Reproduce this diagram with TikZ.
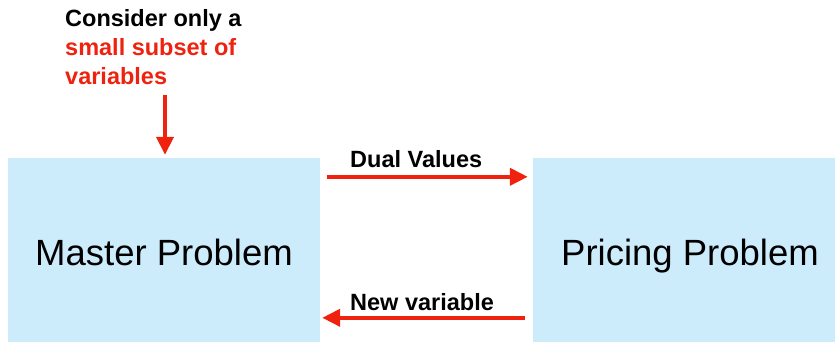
\documentclass[tikz,border=0pt]{standalone}
\usepackage{fontspec}
\setmainfont{Liberation Sans}
\usetikzlibrary{arrows.meta,calc}
\definecolor{boxblue}{RGB}{204,236,252}
\definecolor{arrred}{RGB}{238,34,14}
\begin{document}
\begin{tikzpicture}[x=1pt,y=-1pt,
  probbox/.style={fill=boxblue,draw=none,inner sep=0pt,text height=30pt,text depth=0pt,font=\fontsize{36.5}{40}\selectfont},
  lbl/.style={font=\bfseries\fontsize{23.5}{29}\selectfont,inner sep=0pt},
  arr/.style={draw=arrred,line width=4pt,-{Triangle[length=18pt,width=17pt]}}]
\useasboundingbox (0,0) rectangle (835,342);
\node[probbox,minimum width=312pt,minimum height=184pt] (master) at (164,250) {Master Problem};
\node[probbox,minimum width=314pt,minimum height=184pt] (pricing) at (690,250) {Pricing Problem};
\node[lbl,anchor=base west,align=left] (note) at (65,85) {Consider only a\\\textcolor{arrred}{small subset of}\\\textcolor{arrred}{variables}};
\coordinate (dualstart) at ($(master.north east)+(7,19)$);
\coordinate (dualend) at ($(pricing.north west)+(-5,19)$);
\coordinate (newstart) at ($(pricing.north west)+(-8,160)$);
\coordinate (newend) at ($(master.north east)+(2,160)$);
\coordinate (notestart) at ($(master.north)+(1,-63)$);
\coordinate (noteend) at ($(master.north)+(1,-3)$);
\draw[arr] (dualstart) -- (dualend);
\draw[arr] (newstart) -- (newend);
\draw[arr] (notestart) -- (noteend);
\node[lbl,anchor=base west] (dual) at (350,167) {Dual Values};
\node[lbl,anchor=base west] (newvar) at (350,310) {New variable};
\end{tikzpicture}
\end{document}
